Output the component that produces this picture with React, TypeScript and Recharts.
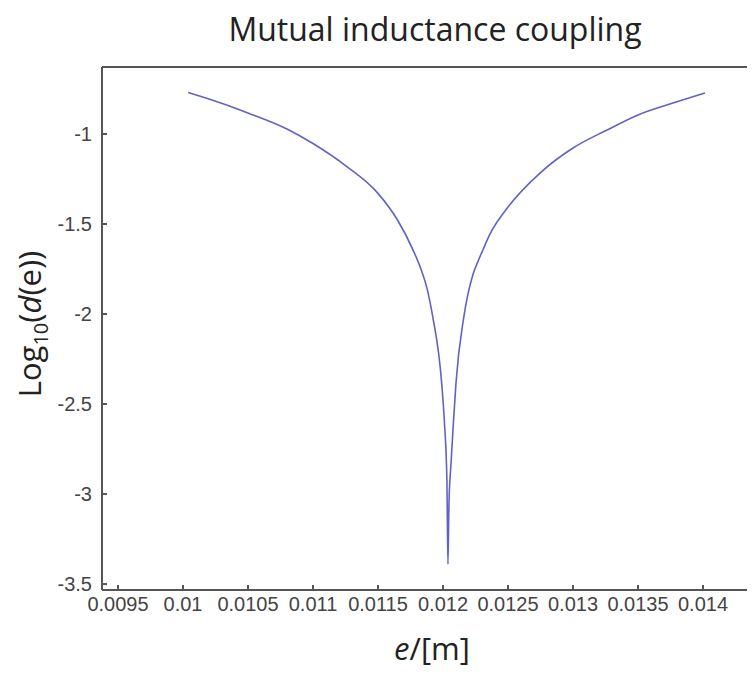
import { LineChart, Line, XAxis, YAxis } from 'recharts';

// e in metres, log10(d(e))
const eValues = [
  0.01004, 0.0102, 0.0105, 0.0108, 0.011, 0.01126, 0.0115, 0.01165, 0.01177,
  0.01183, 0.01188, 0.01192, 0.01199, 0.01201, 0.01203, 0.012038, 0.012046,
  0.01206, 0.01208, 0.0121, 0.01216, 0.01223, 0.01227, 0.01231, 0.01236, 0.0125,
  0.012746, 0.013, 0.013262, 0.0135, 0.013769, 0.014015,
];
const logD = [
  -0.77, -0.806, -0.883, -0.972, -1.053, -1.181, -1.33, -1.478, -1.645, -1.75,
  -1.866, -2.01, -2.385, -2.589, -2.922, -3.39, -3.05, -2.85, -2.606, -2.383,
  -2.017, -1.782, -1.706, -1.639, -1.558, -1.406, -1.217, -1.078, -0.978, -0.894,
  -0.828, -0.772,
];

const xTicks = [0.0095, 0.01, 0.0105, 0.011, 0.0115, 0.012, 0.0125, 0.013, 0.0135, 0.014];
const yTicks = [-3.5, -3, -2.5, -2, -1.5, -1];

const data = eValues.map((e, i) => ({ e, v: logD[i] }));

const xDomain = [0.009377, 0.0144];
const axisColor = '#555';
const tickFont = { fill: '#444', fontSize: 20, fontFamily: 'Liberation Sans, Arial, sans-serif' };
const labelFont = 'Open Sans, sans-serif';

export default function App() {
  return (
    <div style={{ position: 'relative', width: 747, height: 665, background: '#fff' }}>
      <style>{'html, body { overflow: hidden; }'}</style>
      <LineChart
        width={747}
        height={665}
        data={data}
        margin={{ top: 58, right: 0, bottom: 0, left: 0 }}
      >
        <XAxis
          dataKey="e"
          type="number"
          domain={xDomain}
          allowDataOverflow
          ticks={xTicks}
          interval={0}
          height={83}
          stroke={axisColor}
          strokeWidth={2}
          tickSize={-5}
          tickMargin={12}
          tick={tickFont}
          tickFormatter={(v) => String(v)}
        />
        <XAxis
          xAxisId="top"
          dataKey="e"
          orientation="top"
          type="number"
          domain={xDomain}
          allowDataOverflow
          ticks={xTicks}
          interval={0}
          height={1}
          stroke={axisColor}
          strokeWidth={2}
          tickSize={-5}
          tick={false}
        />
        <YAxis
          type="number"
          domain={[-3.533, -0.628]}
          allowDataOverflow
          ticks={yTicks}
          interval={0}
          width={94}
          stroke={axisColor}
          strokeWidth={2}
          tickSize={-5}
          tickMargin={15}
          tick={tickFont}
          tickFormatter={(v) => String(v)}
        />
        <Line
          type="monotone"
          dataKey="v"
          stroke="#6262c4"
          strokeWidth={1.6}
          dot={false}
          isAnimationActive={false}
        />
      </LineChart>
      <div
        style={{
          position: 'absolute',
          left: 107,
          width: 640,
          top: 1,
          textAlign: 'center',
          fontFamily: labelFont,
          fontSize: 32,
          color: '#222',
          lineHeight: '40px',
        }}
      >
        Mutual inductance coupling
      </div>
      <div style={{ position: 'absolute', left: 27, top: 316, width: 0, height: 0 }}>
        <div
          style={{
            position: 'absolute',
            left: 0,
            top: 0,
            transform: 'translate(-50%, -50%) rotate(-90deg)',
            whiteSpace: 'nowrap',
            fontFamily: labelFont,
            fontSize: 31,
            color: '#222',
            lineHeight: '36px',
          }}
        >
          Log<sub style={{ fontSize: 20 }}>10</sub>(<i>d</i>(e))
        </div>
      </div>
      <div
        style={{
          position: 'absolute',
          left: 104,
          width: 640,
          top: 620,
          textAlign: 'center',
          fontFamily: labelFont,
          fontSize: 31,
          color: '#222',
          lineHeight: '40px',
        }}
      >
        <i>e</i>/[m]
      </div>
    </div>
  );
}
